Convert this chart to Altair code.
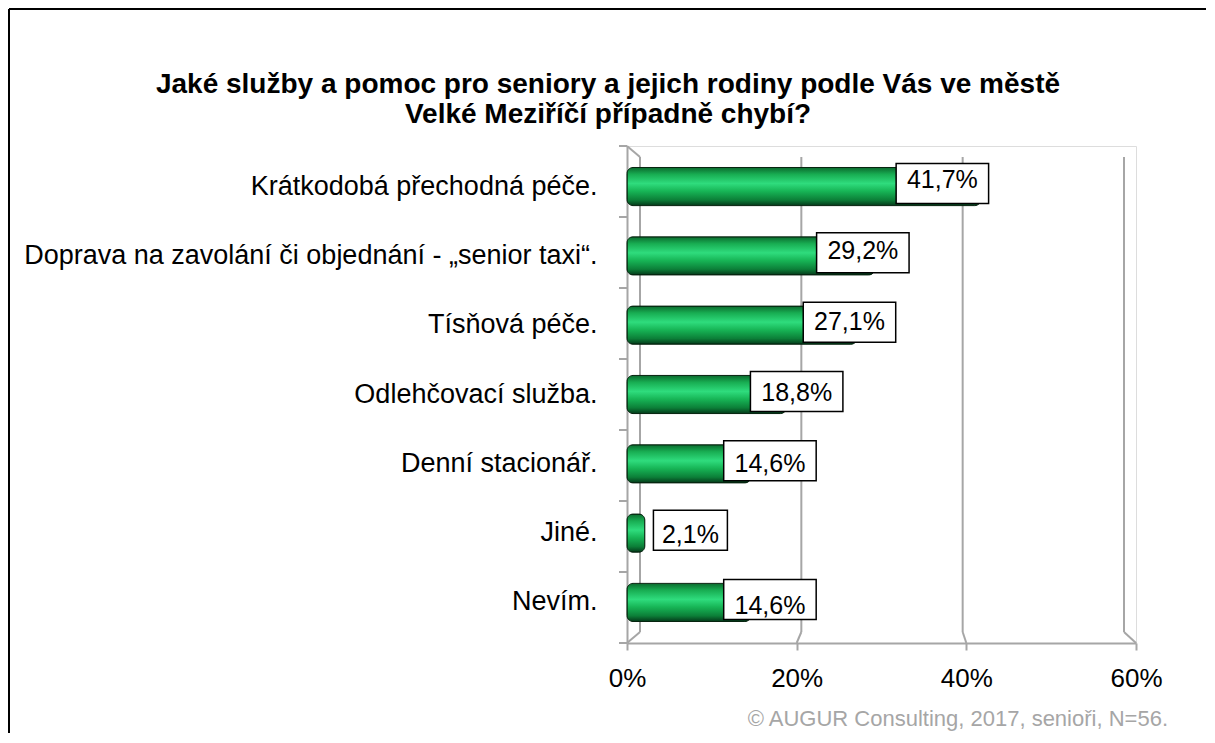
import altair as alt
import pandas as pd

categories = [
    "Krátkodobá přechodná péče.",
    "Doprava na zavolání či objednání - „senior taxi“.",
    "Tísňová péče.",
    "Odlehčovací služba.",
    "Denní stacionář.",
    "Jiné.",
    "Nevím.",
]
values = [41.7, 29.2, 27.1, 18.8, 14.6, 2.1, 14.6]
value_labels = ["41,7%", "29,2%", "27,1%", "18,8%", "14,6%", "2,1%", "14,6%"]
x_ticks = [0, 20, 40, 60]

title_lines = [
    "Jaké služby a pomoc pro seniory a jejich rodiny podle Vás ve městě",
    "Velké Meziříčí případně chybí?",
]
footer = "© AUGUR Consulting, 2017, senioři, N=56."

FONT = "Liberation Sans, Arial, sans-serif"
W, H = 509, 497
DEPTH_X, DEPTH_Y = 13, 11
GRID = "#a6a6a6"

df = pd.DataFrame({"cat": categories, "v": values, "lab": value_labels})
grid_df = pd.DataFrame({"g": x_ticks})
cat_df = pd.DataFrame({"cat": categories})

xscale = alt.Scale(domain=[0, 60])
yscale = alt.Scale(paddingInner=0.45, paddingOuter=0.31)

yenc = alt.Y(
    "cat:N",
    sort=categories,
    scale=yscale,
    axis=alt.Axis(
        title=None,
        labelFont=FONT,
        labelFontSize=27,
        labelColor="black",
        labelPadding=30,
        domainColor=GRID,
        domainWidth=2,
        ticks=False,
        labelLimit=700,
    ),
)
xenc = alt.X(
    "v:Q",
    scale=xscale,
    axis=alt.Axis(
        title=None,
        values=x_ticks,
        labelExpr="datum.value + '%'",
        labelFont=FONT,
        labelFontSize=26,
        labelColor="black",
        labelPadding=15,
        labelFlush=False,
        grid=False,
        domainColor=GRID,
        domainWidth=2,
        tickColor=GRID,
        tickWidth=2,
        tickSize=7,
    ),
)

# back-wall grid lines (perspective: slightly narrower range than the front axis)
back_scale = alt.Scale(domain=[0, 60], range=[DEPTH_X, W - 12])
back = alt.Chart(grid_df).mark_rule(color=GRID, strokeWidth=2).encode(
    x=alt.X("g:Q", scale=back_scale, axis=None),
    y=alt.value(DEPTH_Y),
    y2=alt.value(H - DEPTH_Y),
)
# short diagonals joining back wall to the front floor edge
diag = alt.Chart(grid_df).transform_calculate(
    u2=f"(datum.g * {W} / 60 - {DEPTH_X}) * 60 / {W - 12 - DEPTH_X}"
).mark_rule(color=GRID, strokeWidth=2).encode(
    x=alt.X("g:Q", scale=back_scale, axis=None),
    x2="u2:Q",
    y=alt.value(H - DEPTH_Y),
    y2=alt.value(H),
)
top_diag = alt.Chart(pd.DataFrame({"t": [0]})).mark_rule(color=GRID, strokeWidth=2).encode(
    x=alt.value(0), x2=alt.value(DEPTH_X), y=alt.value(0), y2=alt.value(DEPTH_Y)
)

# category boundary ticks on the front axis
yticks = alt.Chart(cat_df).mark_rule(color=GRID, strokeWidth=2).encode(
    y=alt.Y("cat:N", sort=categories, scale=alt.Scale(paddingInner=0, paddingOuter=0),
            axis=None, bandPosition=0),
    x=alt.value(-8),
    x2=alt.value(0),
)
ytick_last = alt.Chart(pd.DataFrame({"t": [0]})).mark_rule(color=GRID, strokeWidth=2).encode(
    x=alt.value(-8), x2=alt.value(0), y=alt.value(H)
)

grad = alt.Gradient(
    gradient="linear",
    x1=0, x2=0, y1=0, y2=1,
    stops=[
        alt.GradientStop(color="#0b6a2e", offset=0),
        alt.GradientStop(color="#18ad52", offset=0.18),
        alt.GradientStop(color="#2fdc7d", offset=0.42),
        alt.GradientStop(color="#17b556", offset=0.62),
        alt.GradientStop(color="#0c7f38", offset=0.85),
        alt.GradientStop(color="#04391a", offset=1),
    ],
)

bars = alt.Chart(df).mark_bar(
    color=grad, stroke="#06240f", strokeWidth=1, cornerRadius=6
).encode(x=xenc, y=yenc)

label_pos = "0.75 * datum.v + 5.9"

boxes = alt.Chart(df).transform_calculate(
    c=label_pos,
    hw="length(datum.lab) * 1.09",
    x1="datum.c - datum.hw",
    x2="datum.c + datum.hw",
).mark_bar(
    fill="white", stroke="black", strokeWidth=1.5, size=40, yOffset=-3
).encode(
    x=alt.X("x1:Q", scale=xscale, axis=None),
    x2="x2:Q",
    y=alt.Y("cat:N", sort=categories, scale=yscale, axis=None),
)

texts = alt.Chart(df).transform_calculate(c=label_pos).mark_text(
    font=FONT, fontSize=25, color="black", align="center", baseline="middle", dy=-2
).encode(
    x=alt.X("c:Q", scale=xscale, axis=None),
    y=alt.Y("cat:N", sort=categories, scale=yscale, axis=None),
    text="lab:N",
)


def title_line(i, y):
    return alt.Chart(pd.DataFrame({"t": [title_lines[i]]})).mark_text(
        font=FONT, fontSize=28, fontWeight="bold", color="black", align="center",
        baseline="alphabetic",
    ).encode(x=alt.value(-19), y=alt.value(y), text="t:N")


title1 = title_line(0, -53)
title2 = title_line(1, -23)

foot = alt.Chart(pd.DataFrame({"t": [footer]})).mark_text(
    font=FONT, fontSize=22, color=GRID, align="right", baseline="middle"
).encode(x=alt.value(W + 32), y=alt.value(H + 76), text="t:N")

border_left = alt.Chart(pd.DataFrame({"t": [0]})).mark_rule(color="black", strokeWidth=2).encode(
    x=alt.value(-618), y=alt.value(-137), y2=alt.value(H + 120)
)
border_top = alt.Chart(pd.DataFrame({"t": [0]})).mark_rule(color="black", strokeWidth=2).encode(
    x=alt.value(-618), x2=alt.value(W + 120), y=alt.value(-137)
)

chart = (
    alt.layer(back, diag, top_diag, yticks, ytick_last, bars, boxes, texts, title1, title2,
              foot, border_left, border_top)
    .resolve_scale(x="independent", y="independent")
    .properties(
        width=W,
        height=H,
        autosize=alt.AutoSizeParams(type="none"),
        padding={"left": 619, "top": 138, "right": 70, "bottom": 90},
    )
    .configure_view(stroke=None)
    .configure(background="white")
)

chart.save("out.html", embed_options={"renderer": "svg", "actions": False})
